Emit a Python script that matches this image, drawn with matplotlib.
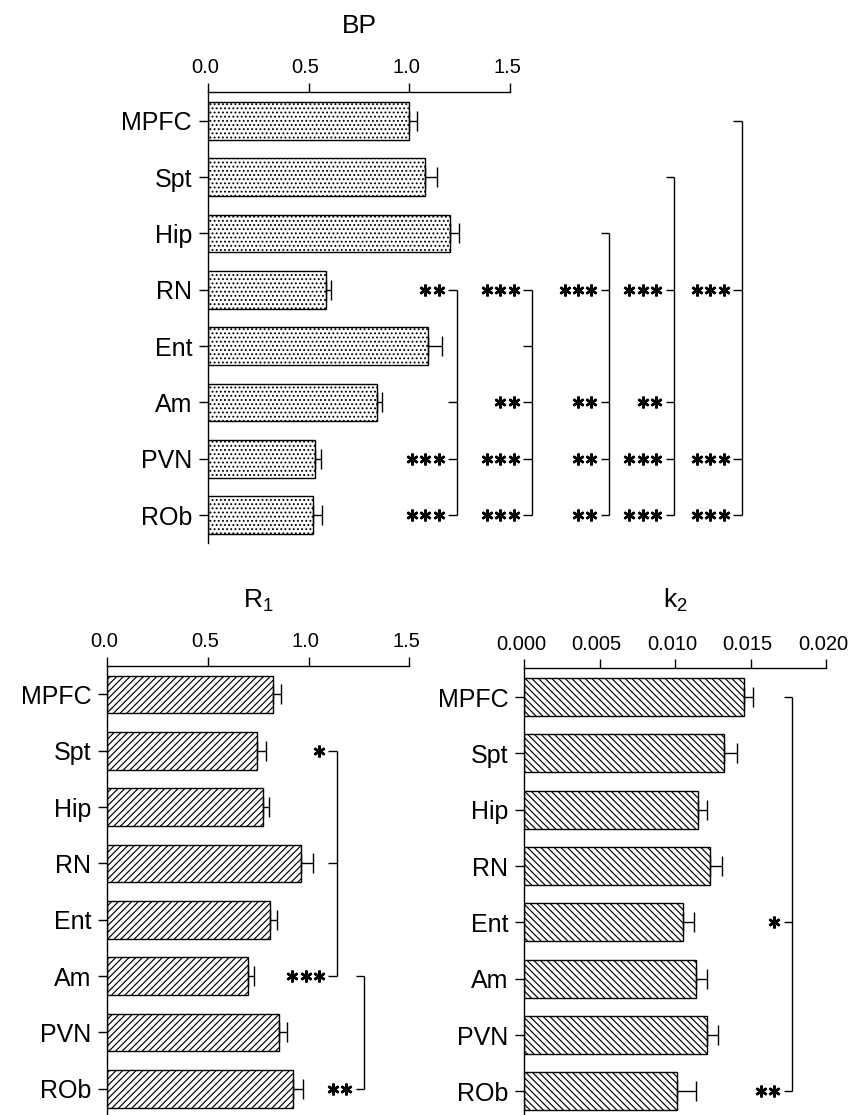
import numpy as np
import matplotlib
matplotlib.use("Agg")
import matplotlib.pyplot as plt
from matplotlib import transforms

plt.rcParams['font.family'] = ['Liberation Sans', 'DejaVu Sans']
plt.rcParams['mathtext.fontset'] = 'custom'
plt.rcParams['mathtext.rm'] = 'Liberation Sans'
plt.rcParams['mathtext.it'] = 'Liberation Sans'
plt.rcParams['hatch.linewidth'] = 0.85

# regions (top to bottom)
regions = ['MPFC', 'Spt', 'Hip', 'RN', 'Ent', 'Am', 'PVN', 'ROb']

# binding potential
bp = [1.00, 1.08, 1.20, 0.585, 1.093, 0.839, 0.529, 0.524]
bp_err = [0.04, 0.055, 0.045, 0.028, 0.07, 0.025, 0.033, 0.04]

# R1
r1 = [0.823, 0.745, 0.771, 0.960, 0.808, 0.698, 0.851, 0.922]
r1_err = [0.042, 0.045, 0.030, 0.060, 0.033, 0.033, 0.042, 0.048]

# k2
k2 = [0.01458, 0.01326, 0.01149, 0.01233, 0.01052, 0.01136, 0.01213, 0.01014]
k2_err = [0.0006, 0.00086, 0.0006, 0.0008, 0.00073, 0.00077, 0.00069, 0.00122]

# significance brackets: (reference region, {region: stars})
bp_sig = [
    ('Am', {'RN': '**', 'PVN': '***', 'ROb': '***'}),
    ('Ent', {'RN': '***', 'Am': '**', 'PVN': '***', 'ROb': '***'}),
    ('Hip', {'RN': '***', 'Am': '**', 'PVN': '**', 'ROb': '**'}),
    ('Spt', {'RN': '***', 'Am': '**', 'PVN': '***', 'ROb': '***'}),
    ('MPFC', {'RN': '***', 'PVN': '***', 'ROb': '***'}),
]
r1_sig = [
    ('RN', {'Spt': '*', 'Am': '***'}),
    ('Am', {'ROb': '**'}),
]
k2_sig = [
    ('MPFC', {'Ent': '*', 'ROb': '**'}),
]

W, H = 849, 1115
fig = plt.figure(figsize=(W / 100, H / 100), dpi=100)


def panel(rect, vals, errs, xmax, xticks, fmt, hatch):
    ax = fig.add_axes(rect)
    y = np.arange(len(regions))
    ax.barh(y, vals, height=0.67, color='white', edgecolor='black',
            linewidth=1.0, hatch=hatch,
            xerr=[np.zeros(len(vals)), errs],
            error_kw=dict(ecolor='black', elinewidth=1.0, capsize=7, capthick=1.0))
    ax.set_ylim(7.5, -0.51)
    ax.set_xlim(0, xmax)
    ax.set_yticks(y)
    ax.set_yticklabels(regions)
    ax.set_xticks(xticks)
    ax.set_xticklabels([fmt % t for t in xticks])
    ax.xaxis.tick_top()
    for s in ['right', 'bottom']:
        ax.spines[s].set_visible(False)
    for s in ['top', 'left']:
        ax.spines[s].set_linewidth(1.0)
    ax.tick_params(axis='x', direction='out', length=6.5, width=1.0,
                   labelsize=14.5, pad=4)
    ax.tick_params(axis='y', direction='out', length=6.5, width=1.0,
                   labelsize=18, pad=5)
    # labels sit a little left of their ticks in the original
    shift = transforms.ScaledTranslation(-3 / 100, 0, fig.dpi_scale_trans)
    for lbl in ax.get_xticklabels():
        lbl.set_transform(lbl.get_transform() + shift)
    return ax


def brackets(ax, sig, xs, tick=0.028, gap=9.5, pitch=13.3):
    tr = transforms.blended_transform_factory(ax.transAxes, ax.transData)
    for (ref, stars), x in zip(sig, xs):
        idx = [regions.index(ref)] + [regions.index(k) for k in stars]
        ax.plot([x, x], [min(idx), max(idx)], color='black', lw=1.0,
                transform=tr, clip_on=False, solid_capstyle='butt')
        for i in idx:
            ax.plot([x - tick, x], [i, i], color='black', lw=1.0,
                    transform=tr, clip_on=False, solid_capstyle='butt')
        for k, s in stars.items():
            # one six-armed asterisk per star, right-aligned at the tick
            for j in range(len(s)):
                off = transforms.offset_copy(tr, fig=fig, x=-(gap + j * pitch),
                                             y=0, units='dots')
                ax.plot([x - tick], [regions.index(k)], marker=(6, 2, 0),
                        ms=8.5, mew=1.8, color='black', transform=off,
                        clip_on=False, linestyle='none')


ax1 = panel([208 / W, 1 - 543.3 / H, 302 / W, 451.3 / H], bp, bp_err,
            1.5, [0.0, 0.5, 1.0, 1.5], '%.1f', '....')
brackets(ax1, bp_sig, [0.8235, 1.072, 1.328, 1.543, 1.767])

ax2 = panel([107.3 / W, 1 - 1116.9 / H, 302 / W, 451.2 / H], r1, r1_err,
            1.5, [0.0, 0.5, 1.0, 1.5], '%.1f', '/////')
brackets(ax2, r1_sig, [0.760, 0.850])

ax3 = panel([524.3 / W, 1 - 1119.5 / H, 301.7 / W, 451.2 / H], k2, k2_err,
            0.02, [0.0, 0.005, 0.010, 0.015, 0.020], '%.3f', '\\\\\\\\\\')
brackets(ax3, k2_sig, [0.888])

fig.text(359 / W, 1 - 33 / H, 'BP', ha='center', va='baseline', fontsize=19)
fig.text(258 / W, 1 - 607.7 / H, r'R$_1$', ha='center', va='baseline', fontsize=19)
fig.text(675 / W, 1 - 607.7 / H, r'k$_2$', ha='center', va='baseline', fontsize=19)

fig.savefig('out.png', dpi=100)
